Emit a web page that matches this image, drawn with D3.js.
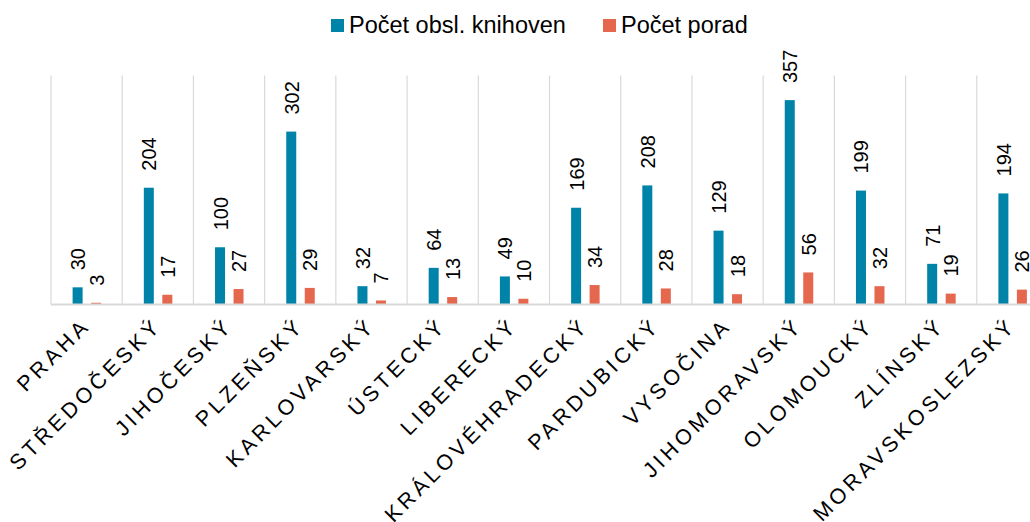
<!DOCTYPE html>
<html><head><meta charset="utf-8">
<script src="https://cdn.jsdelivr.net/npm/d3@7"></script>
<style>body{margin:0;background:#fff;}svg{display:block;font-family:"Liberation Sans",Arial,sans-serif;}</style>
</head><body>
<svg id="c" width="1030" height="522"></svg>
<script>
const categories = ["PRAHA","STŘEDOČESKÝ","JIHOČESKÝ","PLZEŇSKÝ","KARLOVARSKÝ","ÚSTECKÝ","LIBERECKÝ","KRÁLOVÉHRADECKÝ","PARDUBICKÝ","VYSOČINA","JIHOMORAVSKÝ","OLOMOUCKÝ","ZLÍNSKÝ","MORAVSKOSLEZSKÝ"].map(s => s.normalize("NFC"));
const knihovny = [30,204,100,302,32,64,49,169,208,129,357,199,71,194];
const porady = [3,17,27,29,7,13,10,34,28,18,56,32,19,26];
const seriesNames = ["Počet obsl. knihoven","Počet porad"].map(s => s.normalize("NFC"));
const colors = ["#0083A8","#E5674E"];

const svg = d3.select("#c");
const x = d3.scaleBand().domain(categories).range([51, 1048]).padding(0);
const y = d3.scaleLinear().domain([0, 400]).range([304.5, 75.5]);
const barW = 10;

// gridlines at band edges
const edges = categories.map(c => x(c)).concat([x.range()[1]]);
svg.append("g").selectAll("line").data(edges).join("line")
  .attr("x1", d => d).attr("x2", d => d)
  .attr("y1", y(400)).attr("y2", y(0))
  .attr("stroke", "#d9d9d9").attr("stroke-width", 1.2);

const series = [knihovny, porady];
const offsets = [-9, 9.5];
series.forEach((vals, si) => {
  const g = svg.append("g");
  g.selectAll("rect").data(vals).join("rect")
    .attr("x", (d, i) => x(categories[i]) + x.bandwidth() / 2 + offsets[si] - barW / 2)
    .attr("width", barW)
    .attr("y", d => y(d))
    .attr("height", d => y(0) - y(d))
    .attr("fill", colors[si]);
  g.selectAll("text").data(vals).join("text")
    .attr("transform", (d, i) => `translate(${x(categories[i]) + x.bandwidth() / 2 + offsets[si] + 0.5},${y(d) - 17}) rotate(-90)`)
    .attr("dy", "0.35em")
    .attr("font-size", 20)
    .attr("fill", "#000")
    .text(d => d);
});

// baseline
svg.append("line").attr("x1", 51).attr("x2", 1048).attr("y1", y(0)).attr("y2", y(0))
  .attr("stroke", "#d9d9d9").attr("stroke-width", 1.8);

// category labels
svg.append("g").selectAll("text").data(categories).join("text")
  .attr("transform", d => `translate(${x(d) + x.bandwidth() / 2 + 5},${327}) rotate(-45)`)
  .attr("text-anchor", "end")
  .attr("font-size", 21.5)
  .attr("letter-spacing", 3.8)
  .attr("fill", "#000")
  .text(d => d);

// legend
const legend = [{n: seriesNames[0], c: colors[0], x: 331}, {n: seriesNames[1], c: colors[1], x: 603}];
const lg = svg.append("g").selectAll("g").data(legend).join("g");
lg.append("rect").attr("x", d => d.x).attr("y", 19).attr("width", 13).attr("height", 13).attr("fill", d => d.c);
lg.append("text").attr("x", d => d.x + 18).attr("y", 33).attr("font-size", 23.5).attr("fill", "#000").text(d => d.n);
</script>
</body></html>
